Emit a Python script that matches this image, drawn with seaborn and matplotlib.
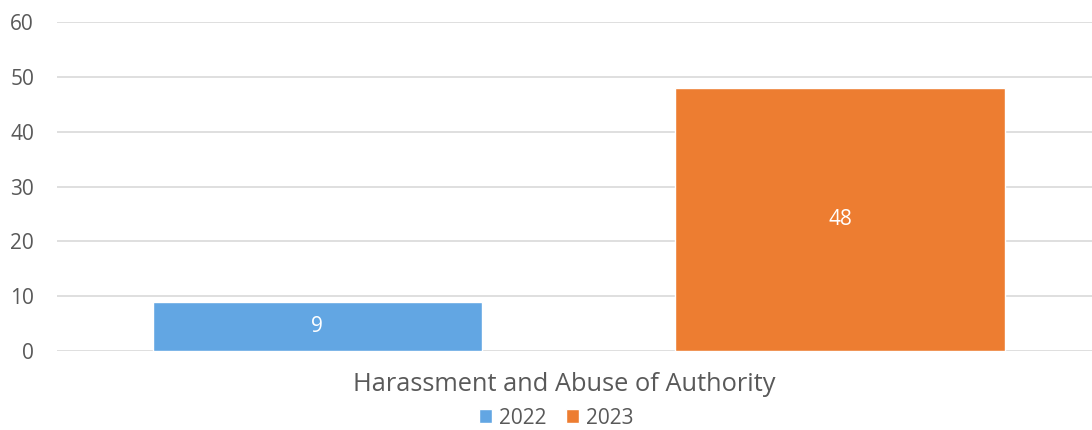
import matplotlib
matplotlib.use("Agg")
import matplotlib.pyplot as plt
import matplotlib.transforms as mtransforms
import seaborn as sns
import pandas as pd

categories = ["Harassment and Abuse of Authority"]
years = ["2022", "2023"]
values_2022 = [9]
values_2023 = [48]
colors = ["#62A6E3", "#ED7D31"]
y_ticks = [0, 10, 20, 30, 40, 50, 60]

df = pd.DataFrame({
    "category": categories * 2,
    "year": [years[0]] * len(values_2022) + [years[1]] * len(values_2023),
    "value": values_2022 + values_2023,
})

sns.set_theme(style="white")
plt.rcParams["font.family"] = ["Open Sans", "DejaVu Sans"]
text_color = "#595959"

fig = plt.figure(figsize=(10.92, 4.30), dpi=100)
ax = fig.add_axes([57 / 1092, 1 - 351 / 430, 1 - 57 / 1092, (351 - 22) / 430])

sns.barplot(data=df, x="category", y="value", hue="year", hue_order=years,
            palette=colors, width=1.01, gap=0.370, ax=ax, saturation=1,
            legend=True)

for cont in ax.containers:
    ax.bar_label(cont, label_type="center", color="white", fontsize=15)

ax.set_ylim(0, 60)
ax.set_yticks(y_ticks)
ax.set_xlim(-0.504, 0.496)
ax.yaxis.grid(True, color="#D9D9D9", linewidth=1.2)
ax.set_axisbelow(True)
for s in ax.spines.values():
    s.set_visible(False)
ax.tick_params(axis="y", length=0, pad=16.5, labelsize=15, labelcolor=text_color)
ax.tick_params(axis="x", length=0, pad=15, labelsize=18.3, labelcolor=text_color)
ax.set_xlabel("")
ax.set_ylabel("")

offset = mtransforms.ScaledTranslation(-14 / 100, 0, fig.dpi_scale_trans)
for lbl in ax.get_xticklabels():
    lbl.set_transform(lbl.get_transform() + offset)

leg = ax.legend(loc="center", bbox_to_anchor=(0.4825, (351 - 418) / 329),
                ncol=2, frameon=False, fontsize=15, handlelength=0.625,
                handleheight=0.625, handletextpad=0.34, columnspacing=0.91,
                labelcolor=text_color, borderaxespad=0)

fig.savefig("out.png", dpi=100)
